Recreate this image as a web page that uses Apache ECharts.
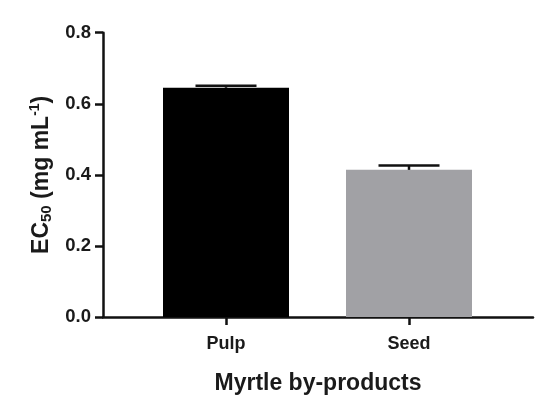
<!DOCTYPE html>
<html>
<head>
<meta charset="utf-8">
<script src="https://cdn.jsdelivr.net/npm/echarts@6/dist/echarts.min.js"></script>
<style>
html,body{margin:0;padding:0;background:#fff;}
#chart{width:550px;height:417px;}
</style>
</head>
<body>
<div id="chart"></div>
<script>
var categories = ['Pulp', 'Seed'];
var ec50Values = [0.645, 0.414];
var ec50Errors = [0.006, 0.012];
var barColors = ['#000000', '#a1a1a5'];
var yTicks = [0.0, 0.2, 0.4, 0.6, 0.8];

var FONT = 'Liberation Sans, Arial, sans-serif';
var TXT = '#1a1a1a';

var chart = echarts.init(document.getElementById('chart'), null, {renderer: 'canvas'});

var barData = categories.map(function (c, i) {
  return {value: ec50Values[i], itemStyle: {color: barColors[i]}};
});
var errData = categories.map(function (c, i) {
  return [i, ec50Values[i], ec50Errors[i]];
});

var option = {
  animation: false,
  backgroundColor: '#ffffff',
  grid: [
    {left: 103, right: 17, top: 32.7, bottom: 100},
    {left: 134.5, right: 49.5, top: 32.7, bottom: 100}
  ],
  xAxis: [
    {
      gridIndex: 0, type: 'value', min: 0, max: 1,
      axisLine: {show: true, onZero: false, lineStyle: {color: '#111', width: 2.5}},
      axisTick: {show: false}, axisLabel: {show: false}, splitLine: {show: false},
      name: 'Myrtle by-products', nameLocation: 'middle', nameGap: 55,
      nameTextStyle: {fontFamily: FONT, fontWeight: 'bold', fontSize: 23, color: TXT}
    },
    {
      gridIndex: 1, type: 'category', data: categories,
      axisLine: {show: false},
      axisTick: {show: true, alignWithLabel: true, length: 8, lineStyle: {color: '#111', width: 2.5}},
      axisLabel: {fontFamily: FONT, fontWeight: 'bold', fontSize: 18, color: TXT, margin: 18}
    }
  ],
  yAxis: [
    {
      gridIndex: 0, type: 'value', min: 0, max: 0.8, interval: 0.2,
      axisLine: {show: true, lineStyle: {color: '#111', width: 2.5}},
      axisTick: {show: true, length: 8, lineStyle: {color: '#111', width: 2.5}},
      axisLabel: {fontFamily: FONT, fontWeight: 'bold', fontSize: 18.5, color: TXT, margin: 12,
        formatter: function (v) { return v.toFixed(1); }},
      splitLine: {show: false},
      name: '{b|EC}{s|50}{b| (mg mL}{p|-1}{b|)}',
      nameLocation: 'middle', nameRotate: 90, nameGap: 48,
      nameTextStyle: {
        fontFamily: FONT, fontWeight: 'bold', fontSize: 23, color: TXT,
        rich: {
          b: {fontFamily: FONT, fontWeight: 'bold', fontSize: 23, color: TXT, lineHeight: 26},
          s: {fontFamily: FONT, fontWeight: 'bold', fontSize: 15, color: TXT, padding: [10, 0, 0, 0], lineHeight: 26},
          p: {fontFamily: FONT, fontWeight: 'bold', fontSize: 14, color: TXT, padding: [0, 0, 12, 0], lineHeight: 26}
        }
      }
    },
    {
      gridIndex: 1, type: 'value', min: 0, max: 0.8, interval: 0.2, show: false
    }
  ],
  series: [
    {
      type: 'bar', xAxisIndex: 1, yAxisIndex: 1,
      data: barData, barWidth: 126
    },
    {
      type: 'custom', xAxisIndex: 1, yAxisIndex: 1, z: 5,
      data: errData,
      encode: {x: 0, y: 1},
      renderItem: function (params, api) {
        var x = api.value(0), y = api.value(1), e = api.value(2);
        var p0 = api.coord([x, y]);
        var p1 = api.coord([x, y + e]);
        var half = api.size([1, 0])[0] / 6;
        var style = {stroke: '#111', lineWidth: 2.5};
        return {
          type: 'group',
          children: [
            {type: 'line', shape: {x1: p0[0], y1: p0[1], x2: p1[0], y2: p1[1]}, style: style},
            {type: 'line', shape: {x1: p1[0] - half, y1: p1[1], x2: p1[0] + half, y2: p1[1]}, style: style}
          ]
        };
      }
    }
  ]
};
chart.setOption(option);
</script>
</body>
</html>
